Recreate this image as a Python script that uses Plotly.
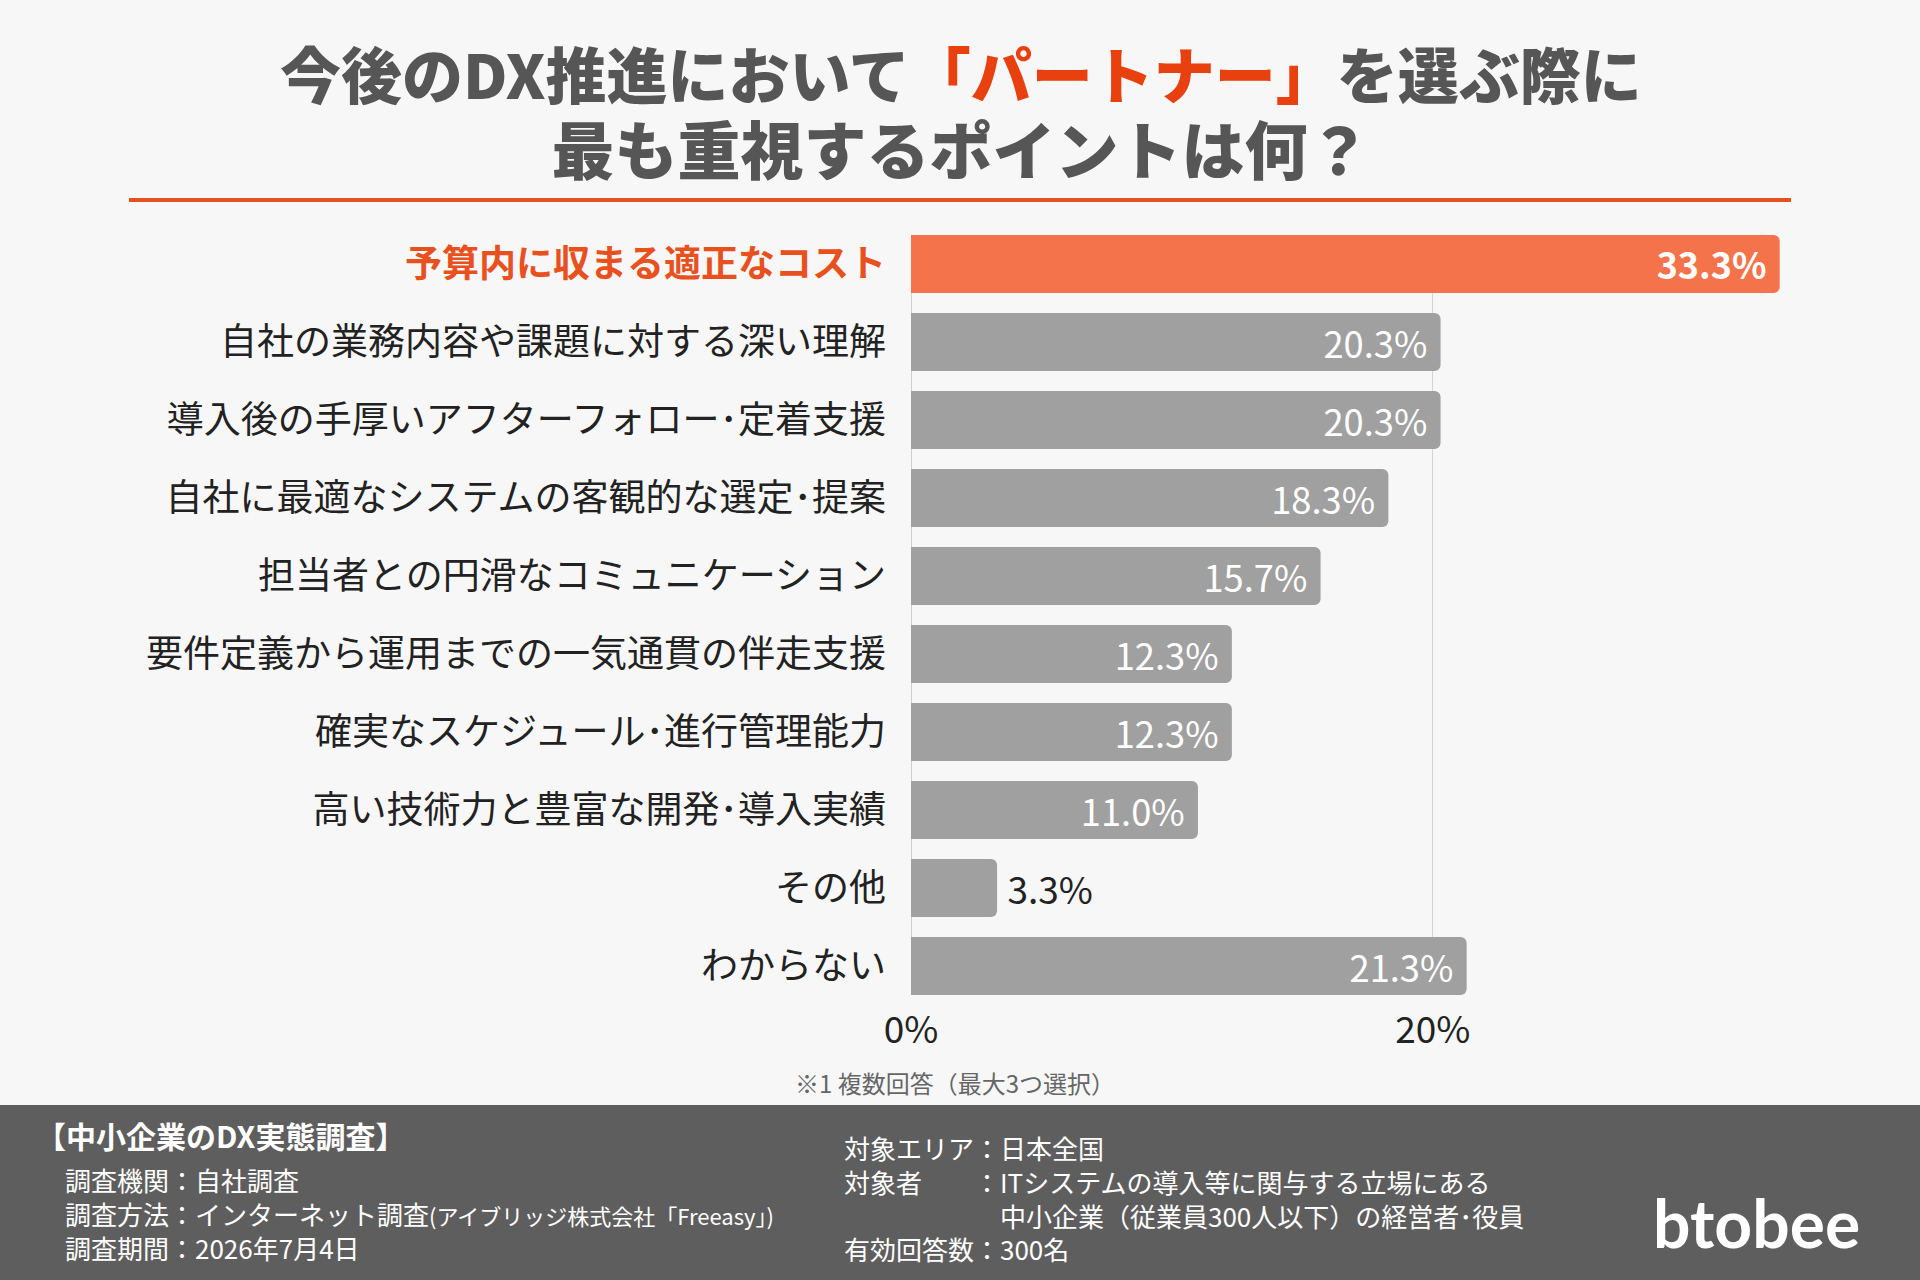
import plotly.graph_objects as go

categories = [
    "予算内に収まる適正なコスト",
    "自社の業務内容や課題に対する深い理解",
    "導入後の手厚いアフターフォロー･定着支援",
    "自社に最適なシステムの客観的な選定･提案",
    "担当者との円滑なコミュニケーション",
    "要件定義から運用までの一気通貫の伴走支援",
    "確実なスケジュール･進行管理能力",
    "高い技術力と豊富な開発･導入実績",
    "その他",
    "わからない",
]
values = [33.3, 20.3, 20.3, 18.3, 15.7, 12.3, 12.3, 11.0, 3.3, 21.3]
highlight = "予算内に収まる適正なコスト"
x_ticks = [0, 20]
x_tick_labels = ["0%", "20%"]

W, H = 1920, 1280
ML, MR, MT, MB = 911, 109, 235, 285
PW, PH = W - ML - MR, H - MT - MB
FONT = "Noto Sans CJK JP"
ORANGE_BAR = "#f4734a"
ORANGE_TXT = "#e8501e"
GRAY_BAR = "#a0a0a0"
BG = "#f7f7f7"


def px(x):
    return (x - ML) / PW


def py(y):
    return 1 - (y - MT) / PH


colors = [ORANGE_BAR if c == highlight else GRAY_BAR for c in categories]
positions = ["outside" if v < 5 else "inside" for v in values]
texts = []
sizes = []
for c, v, p in zip(categories, values, positions):
    s = f"{v:.1f}%"
    s = s + "\u2009" if p == "inside" else "\u2009" + s
    texts.append(f"<b>{s}</b>" if c == highlight else s)
    sizes.append(40 if c == highlight else 39)
ticktext = [
    f"<span style='color:{ORANGE_TXT}'><b>{c}</b></span>" if c == highlight else c
    for c in categories
]

fig = go.Figure(
    go.Bar(
        x=values,
        y=categories,
        orientation="h",
        marker=dict(color=colors, line=dict(width=0)),
        text=texts,
        textposition=positions,
        insidetextanchor="end",
        constraintext="none",
        insidetextfont=dict(family=FONT, size=sizes, color="#ffffff"),
        outsidetextfont=dict(family=FONT, size=37, color="#222222"),
        textangle=0,
        cliponaxis=False,
        hoverinfo="skip",
    )
)

fig.update_layout(
    width=W,
    height=H,
    margin=dict(l=ML, r=MR, t=MT, b=MB, pad=0),
    paper_bgcolor=BG,
    plot_bgcolor=BG,
    bargap=0.255,
    barcornerradius=6,
    showlegend=False,
    font=dict(family=FONT, color="#222222"),
    xaxis=dict(
        range=[0, 34.5],
        tickvals=x_ticks,
        ticktext=x_tick_labels,
        showgrid=True,
        gridcolor="#d3d3d3",
        gridwidth=1,
        zeroline=True,
        zerolinecolor="#cfcfcf",
        zerolinewidth=1,
        showline=False,
        ticks="",
        tickfont=dict(family=FONT, size=37, color="#222222"),
        ticklabelstandoff=10,
        fixedrange=True,
    ),
    yaxis=dict(
        type="category",
        categoryorder="array",
        categoryarray=categories,
        tickvals=categories,
        ticktext=ticktext,
        range=[9.3725, -0.3725],
        autorange=False,
        showgrid=False,
        zeroline=False,
        showline=False,
        ticks="",
        tickfont=dict(family=FONT, size=37, color="#222222"),
        ticklabelstandoff=24,
        fixedrange=True,
    ),
)

shapes = [
    # orange rule under the title
    dict(type="line", xref="paper", yref="paper", x0=px(129), x1=px(1791),
         y0=py(200), y1=py(200), line=dict(color="#e3521f", width=4)),
    # footer panel
    dict(type="rect", xref="paper", yref="paper", x0=px(0), x1=px(W),
         y0=py(1105), y1=py(H), fillcolor="#5f5e5e", line=dict(width=0),
         layer="above"),
]
fig.update_layout(shapes=shapes)

TITLE_GRAY = "#575656"
TITLE_RED = "#e8400f"
anns = []


def ann(text, x, y, size, color, xanchor="left", weight="normal", family=FONT,
        align="left"):
    anns.append(dict(text=text, x=px(x), y=py(y), xref="paper", yref="paper",
                     xanchor=xanchor, yanchor="middle", showarrow=False, align=align,
                     font=dict(family=family, size=size, color=color, weight=weight)))


ann(f"<span style='font-size:61px'>今後のDX推進において<span style='color:{TITLE_RED}'>「パートナー」</span>を選ぶ際に</span><br>"
    "<span style='font-size:63px'>最も重視するポイントは何？</span>",
    961, 110, 58, TITLE_GRAY, xanchor="center", weight=900, align="center")
ann("※1 複数回答（最大3つ選択）", 955, 1082, 24, "#666666", xanchor="center")

WHITE = "#ffffff"
ann("<b>【中小企業のDX実態調査】</b>", 34, 1135, 30, WHITE)
ann("調査機関：自社調査<br>"
    "調査方法：インターネット調査<span style='font-size:22px'>(アイブリッジ株式会社「Freeasy」)</span><br>"
    "調査期間：2026年7月4日",
    63, 1213, 26, WHITE)
ann("対象エリア：日本全国<br>"
    "対象者　　：ITシステムの導入等に関与する立場にある<br>"
    "　　　　　　中小企業（従業員300人以下）の経営者･役員<br>"
    "有効回答数：300名",
    842, 1198, 26, WHITE)
ann("btobee", 1756, 1222, 66, WHITE, xanchor="center", weight="bold", family="Lato")

fig.update_layout(annotations=anns)

fig.write_html("out.html", config={"displayModeBar": False},
               post_script="document.body.style.margin='0';document.body.style.background='%s';" % BG)
